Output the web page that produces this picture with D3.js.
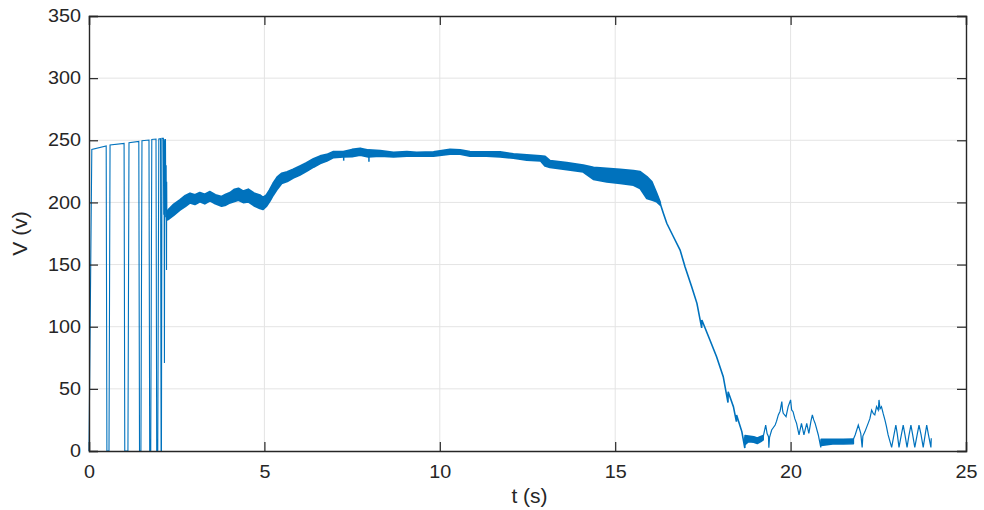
<!DOCTYPE html>
<html>
<head>
<meta charset="utf-8">
<script src="https://cdn.jsdelivr.net/npm/d3@7"></script>
<style>
  html, body { margin: 0; padding: 0; background: #fff; }
  svg { display: block; }
  text { font-family: "Liberation Sans", Arial, Helvetica, sans-serif; fill: #262626; }
</style>
</head>
<body>
<svg id="chart" width="984" height="510"></svg>
<script>
// ---------- data ----------
const xTicks = [0, 5, 10, 15, 20, 25];
const yTicks = [0, 50, 100, 150, 200, 250, 300, 350];
const xLabel = "t (s)";
const yLabel = "V (v)";

// start-up sawtooth (time s, voltage V)
const startT = [0, 0.08, 0.49, 0.51, 0.57, 0.60, 1.00, 1.02, 1.11, 1.14, 1.42, 1.44, 1.48, 1.51,
  1.71, 1.73, 1.76, 1.79, 1.91, 1.93, 1.96, 1.99, 2.04, 2.055, 2.065, 2.08, 2.12, 2.13, 2.14,
  2.15, 2.16, 2.17, 2.18, 2.19, 2.20, 2.21, 2.215, 2.22];
const startV = [0, 242.7, 245.4, 0, 0, 246.2, 247.5, 0, 0, 248.1, 249.1, 0, 0, 249.7,
  250.2, 0, 0, 250.7, 251.0, 0, 0, 251.0, 251.3, 0, 0, 251.5, 251.5, 190, 251,
  70.8, 250, 195, 251, 188, 230, 145.6, 216.7, 188];

// noisy running band (time, upper envelope, lower envelope)
const bandT  = [2.22, 2.26, 2.42, 2.59, 2.75, 2.88, 3.02, 3.16, 3.30, 3.45, 3.60, 3.78, 3.90, 4.02, 4.15, 4.26,
  4.40, 4.54, 4.70, 4.87, 4.96, 5.06, 5.15, 5.25, 5.37, 5.49, 5.65, 5.82, 6.00, 6.20, 6.40, 6.59, 6.78, 6.97,
  7.25, 7.50, 7.73, 7.96, 8.30, 8.68, 9.06, 9.34, 9.82, 10.29, 10.58, 10.86,
  11.33, 11.72, 12.10, 12.48, 12.87, 13.00, 13.14, 13.62, 14.09, 14.38, 14.76, 15.14, 15.52,
  15.71, 15.90, 16.04, 16.18, 16.28];
const bandHi = [192, 193.9, 198.5, 201.9, 205.5, 207.3, 206.0, 207.8, 206.5, 208.6, 206.0, 204.6, 206.5, 207.8, 210.5, 211.3,
  209.0, 210.5, 207.5, 205.9, 204.0, 205.9, 210.0, 215.3, 220.5, 223.3, 224.5, 226.5, 229.0, 231.9, 235.0, 237.3, 238.5, 240.8,
  240.8, 242.5, 243.5, 242.1, 241.6, 240.2, 240.8, 240.2, 240.5, 242.6, 242.1, 240.8,
  240.5, 240.5, 238.9, 238.1, 237.3, 237.0, 233.6, 231.9, 230.0, 228.2, 227.4, 226.5, 225.5,
  224.6, 220.6, 216.7, 207.3, 200];
const bandLo = [186, 186.4, 190.0, 193.9, 197.0, 199.8, 198.5, 200.6, 199.0, 201.4, 199.0, 197.1, 198.0, 199.8, 201.0, 201.9,
  200.0, 200.6, 197.5, 195.2, 194.5, 197.1, 201.0, 205.9, 211.0, 215.3, 217.0, 219.8, 222.0, 225.1, 228.5, 231.4, 233.5, 236.2,
  236.8, 237.0, 238.1, 236.8, 237.3, 236.8, 237.3, 237.3, 237.3, 238.9, 238.9, 237.3,
  237.3, 236.8, 235.7, 234.1, 233.6, 229.5, 228.2, 226.5, 224.6, 218.6, 216.7, 215.4, 214.0,
  211.4, 203.4, 202.1, 200.8, 198];
// short downward spikes inside the band (time, top, bottom)
const spikeT  = [7.26, 7.98];
const spikeHi = [238, 238];
const spikeLo = [233.6, 232.7];

// shutdown descent
const fallT = [16.28, 16.37, 16.47, 16.66, 16.85, 16.99, 17.18, 17.33, 17.465, 17.47, 17.70, 17.89,
  18.08, 18.215, 18.22, 18.37, 18.455, 18.46, 18.61, 18.695, 18.70];
const fallV = [199.3, 191.4, 183.2, 172.4, 161.7, 148.3, 132.2, 118.8, 99, 105.4, 89.3, 75.9,
  59.8, 39, 47.7, 35.7, 23.6, 29.0, 15.6, 2.4, 11.5];

// low-level noisy band 1
const low1T  = [18.70, 18.80, 18.95, 19.05, 19.15, 19.22];
const low1Hi = [12.5, 12.1, 11.5, 10.5, 11.8, 12.5];
const low1Lo = [5.0, 7.5, 7.0, 6.0, 7.5, 9.0];

// low-level oscillation 1
const oscT = [19.22, 19.29, 19.33, 19.37, 19.38, 19.40, 19.46, 19.56, 19.60, 19.65, 19.70, 19.75, 19.77,
  19.79, 19.87, 19.93, 20.00, 20.03, 20.07, 20.12, 20.17, 20.24, 20.31, 20.38, 20.46, 20.52, 20.58,
  20.62, 20.66, 20.70, 20.79, 20.86, 20.87];
const oscV = [11.5, 20.9, 14, 11.5, 2.7, 11, 16.9, 20.9, 24, 29.0, 32, 39.7, 33,
  30.3, 27.6, 35.7, 41.1, 33, 31.6, 26, 22.2, 12.9, 22.2, 12.9, 22.2, 14.2, 24,
  29.0, 25, 22.2, 12.9, 2.9, 9];

// low-level noisy band 2
const low2T  = [20.87, 21.2, 21.5, 21.79];
const low2Hi = [9.5, 9.4, 9.4, 9.6];
const low2Lo = [4.5, 5.6, 5.6, 5.8];

// low-level oscillation 2
const osc2T = [21.79, 21.84, 21.93, 22.00, 22.04, 22.06, 22.12, 22.21, 22.26, 22.31, 22.36, 22.40, 22.45,
  22.50, 22.52, 22.55, 22.59, 22.64, 22.69, 22.73, 22.78, 22.88, 22.94, 23.00, 23.04, 23.09, 23.15,
  23.21, 23.26, 23.32, 23.37, 23.43, 23.48, 23.54, 23.60, 23.66, 23.72, 23.78, 23.83, 23.88, 23.93,
  24.00, 24.01];
const osc2V = [9.4, 12.9, 20.9, 14.2, 2.9, 12, 15.6, 22.2, 26, 32.9, 30, 29.0, 35.7,
  33, 41.1, 34, 35.7, 30, 24.9, 20, 12.9, 2.9, 12, 20.9, 14, 2.9, 12,
  20.9, 13, 2.9, 12, 20.9, 13, 2.9, 12, 20.9, 13, 2.9, 12, 20.9, 13,
  2.9, 10.2];

// ---------- drawing ----------
const W = 984, H = 510;
const m = { left: 89, top: 16, right: 18, bottom: 59 };
const svg = d3.select("#chart");
const x = d3.scaleLinear().domain([0, 25]).range([m.left, W - m.right]);
const y = d3.scaleLinear().domain([0, 350]).range([H - m.bottom, m.top]);
const col = "#0072BD";
const axisCol = "#262626";

// grid
const g = svg.append("g");
g.selectAll(".gx").data(xTicks.slice(1, -1)).enter().append("line")
  .attr("x1", d => x(d)).attr("x2", d => x(d)).attr("y1", y(0)).attr("y2", y(350))
  .attr("stroke", "#e4e4e4").attr("stroke-width", 1);
g.selectAll(".gy").data(yTicks.slice(1, -1)).enter().append("line")
  .attr("y1", d => y(d)).attr("y2", d => y(d)).attr("x1", x(0)).attr("x2", x(25))
  .attr("stroke", "#e4e4e4").attr("stroke-width", 1);

// data
const plot = svg.append("g");
const zip = (a, b) => a.map((t, i) => [t, b[i]]);
const line = d3.line().x(d => x(d[0])).y(d => y(d[1]));
const area = d3.area().x(d => x(d[0])).y0(d => y(d[2])).y1(d => y(d[1]));
const zip3 = (a, b, c) => a.map((t, i) => [t, b[i], c[i]]);

[[bandT, bandHi, bandLo, 2], [low1T, low1Hi, low1Lo, 1.5], [low2T, low2Hi, low2Lo, 1.5]].forEach(([t, hi, lo, sw]) => {
  plot.append("path").datum(zip3(t, hi, lo)).attr("d", area)
    .attr("fill", col).attr("stroke", col).attr("stroke-width", sw).attr("stroke-linejoin", "round");
});
[[startT, startV, 1.1], [fallT, fallV, 1.6], [oscT, oscV, 1.2], [osc2T, osc2V, 1.2]].forEach(([t, v, sw]) => {
  plot.append("path").datum(zip(t, v)).attr("d", line)
    .attr("fill", "none").attr("stroke", col).attr("stroke-width", sw);
});
plot.selectAll(".spike").data(spikeT.map((t, i) => [t, spikeHi[i], spikeLo[i]])).enter().append("line")
  .attr("x1", d => x(d[0])).attr("x2", d => x(d[0])).attr("y1", d => y(d[1])).attr("y2", d => y(d[2]))
  .attr("stroke", col).attr("stroke-width", 1.5);

// axes (MATLAB-like inward ticks, box)
const tl = 9;
const axL = svg.append("g").attr("transform", `translate(${m.left},0)`)
  .call(d3.axisLeft(y).tickValues(yTicks).tickSize(-tl).tickPadding(8));
const axR = svg.append("g").attr("transform", `translate(${W - m.right},0)`)
  .call(d3.axisRight(y).tickValues(yTicks).tickSize(-tl).tickFormat(""));
const axB = svg.append("g").attr("transform", `translate(0,${H - m.bottom})`)
  .call(d3.axisBottom(x).tickValues(xTicks).tickSize(-tl).tickPadding(10));
const axT = svg.append("g").attr("transform", `translate(0,${m.top})`)
  .call(d3.axisTop(x).tickValues(xTicks).tickSize(-tl).tickFormat(""));
[axL, axR, axB, axT].forEach(a => {
  a.select(".domain").attr("stroke", axisCol).attr("stroke-width", 1.4);
  a.selectAll(".tick line").attr("stroke", axisCol).attr("stroke-width", 1.2);
  a.selectAll(".tick text").attr("font-size", 17.5).attr("fill", axisCol)
    .style("font-family", '"Liberation Sans", Arial, sans-serif');
});
// slightly wide tick glyphs like the reference
axL.selectAll(".tick text").attr("x", null).attr("transform", "translate(-8,0) scale(1.13,1)");
axB.selectAll(".tick text").attr("dy", "0.95em").attr("transform", "scale(1.13,1)");

svg.append("text").attr("x", (x(0) + x(25)) / 2 + 2).attr("y", 503)
  .attr("text-anchor", "middle").attr("font-size", 21).text(xLabel);
svg.append("text").attr("transform", `translate(27,${(y(0) + y(350)) / 2}) rotate(-90)`)
  .attr("text-anchor", "middle").attr("font-size", 21).text(yLabel);
</script>
</body>
</html>
